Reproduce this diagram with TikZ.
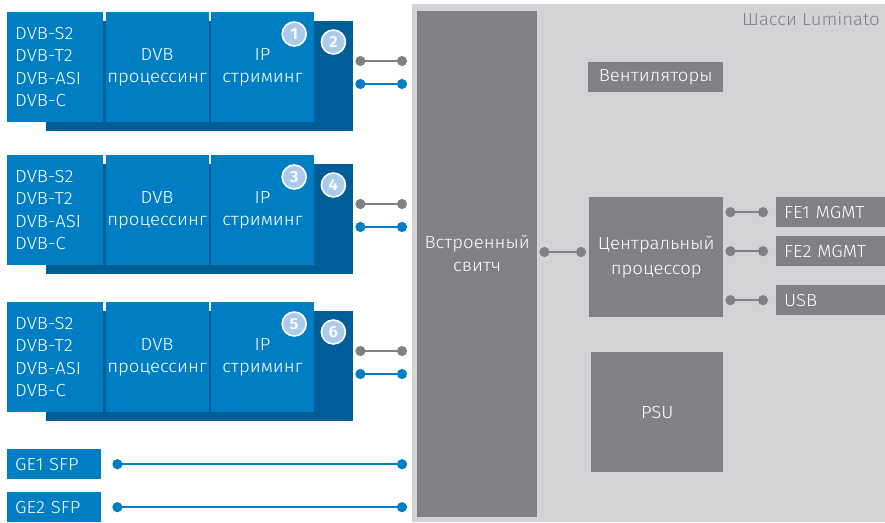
\documentclass[tikz,border=0pt]{standalone}
\usepackage{fontspec}
\setmainfont{Fira Sans}[UprightFont={* Light}, FakeStretch=1.06]
\usetikzlibrary{arrows.meta,positioning}
\definecolor{lumblue}{RGB}{0,126,196}
\definecolor{lumdark}{RGB}{0,94,151}
\definecolor{lumgray}{RGB}{128,129,133}
\definecolor{lumlight}{RGB}{210,211,213}
\definecolor{lumcirc}{RGB}{170,203,233}

\begin{document}
\begin{tikzpicture}[x=1pt, y=-1pt,
  every node/.style={font=\fontsize{17.5}{22.5}\selectfont, text=white, inner sep=0pt},
  cell/.style={fill=lumblue, minimum height=110pt, align=center},
  badge/.style={circle, fill=lumcirc, draw=white, line width=1.6pt, minimum size=24pt, font=\fontsize{16}{16}\selectfont\bfseries},
  graybox/.style={fill=lumgray, anchor=north west},
  portbox/.style={anchor=north west, minimum height=30pt, text width=#1, align=left, inner xsep=8pt},
  link/.style={line width=2.2pt, {Circle[length=10pt]}-{Circle[length=10pt]}}]
\useasboundingbox (0,0) rectangle (885,522);

% chassis
\node[fill=lumlight, minimum width=473pt, minimum height=518pt, anchor=north west] (chassis) at (412,4) {};
\node[text=lumgray, anchor=north east] (chassistxt) at (880,12) {Шасси Luminato};
\node[graybox, minimum width=120pt, minimum height=506pt] (switch) at (417,11) {};
\node[align=center, font=\fontsize{17.5}{23}\selectfont] (switchtxt) at ([yshift=11pt]switch.center) {Встроенный\\свитч};
\node[graybox, minimum width=135pt, minimum height=30pt] (fans) at (588,62) {Вентиляторы};
\node[graybox, minimum width=134pt, minimum height=120pt, align=center, font=\fontsize{17.5}{25}\selectfont] (cpu) at (589,197) {Центральный\\процессор};
\node[graybox, minimum width=132pt, minimum height=120pt] (psu) at (591,352) {PSU};
\node[portbox=93pt, fill=lumgray] (fe1) at (776,197) {FE1 MGMT};
\node[portbox=93pt, fill=lumgray] (fe2) at (776,236) {FE2 MGMT};
\node[portbox=93pt, fill=lumgray] (usb) at (776,285) {USB};

% modules
\foreach \ytop/\a/\b [count=\i] in {12/1/2,155/3/4,302/5/6}{
  \node[fill=lumdark, minimum width=307pt, minimum height=110pt, anchor=north west] (back\i) at (46,\ytop+9) {};
  \node[cell, anchor=north west, text width=80pt, align=left, inner xsep=8pt] (in\i) at (7,\ytop) {DVB-S2\\DVB-T2\\DVB-ASI\\DVB-C};
  \node[cell, minimum width=103pt, right=2pt of in\i] (proc\i) {DVB\\процессинг};
  \node[cell, minimum width=103pt, right=2pt of proc\i] (ip\i) {IP\\стриминг};
  \node[badge] (n\a) at ([xshift=-20pt,yshift=-22pt]ip\i.north east) {\a};
  \node[badge] (n\b) at ([xshift=-20pt,yshift=-21pt]back\i.north east) {\b};
  \draw[link, lumgray, shorten <=2pt, shorten >=10pt] (back\i.east |- 0,\ytop+49) -- (switch.west |- 0,\ytop+49);
  \draw[link, lumblue, shorten <=2pt, shorten >=10pt] (back\i.east |- 0,\ytop+72) -- (switch.west |- 0,\ytop+72);
}

% SFP ports
\node[portbox=78pt, fill=lumblue] (ge1) at (7,449) {GE1 SFP};
\node[portbox=78pt, fill=lumblue] (ge2) at (7,492) {GE2 SFP};
\draw[link, lumblue, shorten <=11pt, shorten >=10pt] (ge1.east) -- (switch.west |- ge1);
\draw[link, lumblue, shorten <=11pt, shorten >=10pt] (ge2.east) -- (switch.west |- ge2);

% cpu links
\draw[link, lumgray, shorten <=2pt, shorten >=3pt] (switch.east |- 0,252) -- (cpu.west |- 0,252);
\draw[link, lumgray, shorten <=2pt, shorten >=8pt] (cpu.east |- fe1) -- (fe1.west);
\draw[link, lumgray, shorten <=2pt, shorten >=8pt] (cpu.east |- fe2) -- (fe2.west);
\draw[link, lumgray, shorten <=2pt, shorten >=8pt] (cpu.east |- usb) -- (usb.west);
\end{tikzpicture}
\end{document}
